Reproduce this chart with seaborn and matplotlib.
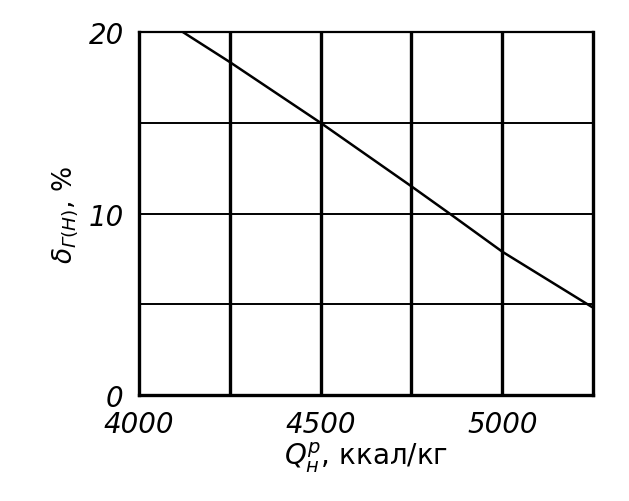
import numpy as np
import pandas as pd
import matplotlib
matplotlib.use("Agg")
import matplotlib.pyplot as plt
import seaborn as sns

# values
heat_value = [4121, 4250, 4500, 4750, 4855, 5000, 5247]   # Q_н^р, ккал/кг
delta_h = [20.0, 18.35, 15.0, 11.5, 10.0, 7.9, 4.85]      # δ_Г(Н), %
x_ticks = [4000, 4500, 5000]
x_grid = [4250, 4500, 4750, 5000]
y_ticks = [0, 10, 20]
y_grid = [5, 10, 15]


def main():
    sns.set_style("white")
    plt.rcParams['font.family'] = ['DejaVu Sans']
    plt.rcParams['mathtext.fontset'] = 'dejavusans'
    plt.rcParams['text.color'] = 'black'
    plt.rcParams['axes.labelcolor'] = 'black'
    plt.rcParams['xtick.color'] = 'black'
    plt.rcParams['ytick.color'] = 'black'

    df = pd.DataFrame({'Q': heat_value, 'delta': delta_h})

    fig = plt.figure(figsize=(6.29, 5.02), dpi=100)
    ax = fig.add_axes([0.221, 0.211, 0.722, 0.723])

    # grid: vertical lines heavier than horizontal ones, like the scan
    for gx in x_grid:
        ax.axvline(gx, color='black', lw=2.4, zorder=1)
    for gy in y_grid:
        ax.axhline(gy, color='black', lw=1.4, zorder=1)

    sns.lineplot(data=df, x='Q', y='delta', color='black', lw=1.8, ax=ax, zorder=3)

    ax.set_xlim(4000, 5250)
    ax.set_ylim(0, 20)
    ax.set_xticks(x_ticks)
    ax.set_yticks(y_ticks)
    ax.set_xticklabels([str(t) for t in x_ticks], fontsize=20, style='italic')
    ax.set_yticklabels([str(t) for t in y_ticks], fontsize=20, style='italic')
    ax.tick_params(axis='both', length=0, pad=11, colors='black')

    for side in ['left', 'right', 'top', 'bottom']:
        ax.spines[side].set_color('black')
        ax.spines[side].set_linewidth(2.4)
    ax.spines['top'].set_linewidth(1.6)

    ax.set_xlabel(r'$Q_{н}^{р}$, ккал/кг', fontsize=20, labelpad=1, color='black')
    ax.set_ylabel(r'$\delta_{Г(Н)}$, %', fontsize=19, labelpad=6, color='black')

    fig.savefig('out.png', dpi=100, facecolor='white')


if __name__ == "__main__":
    main()
